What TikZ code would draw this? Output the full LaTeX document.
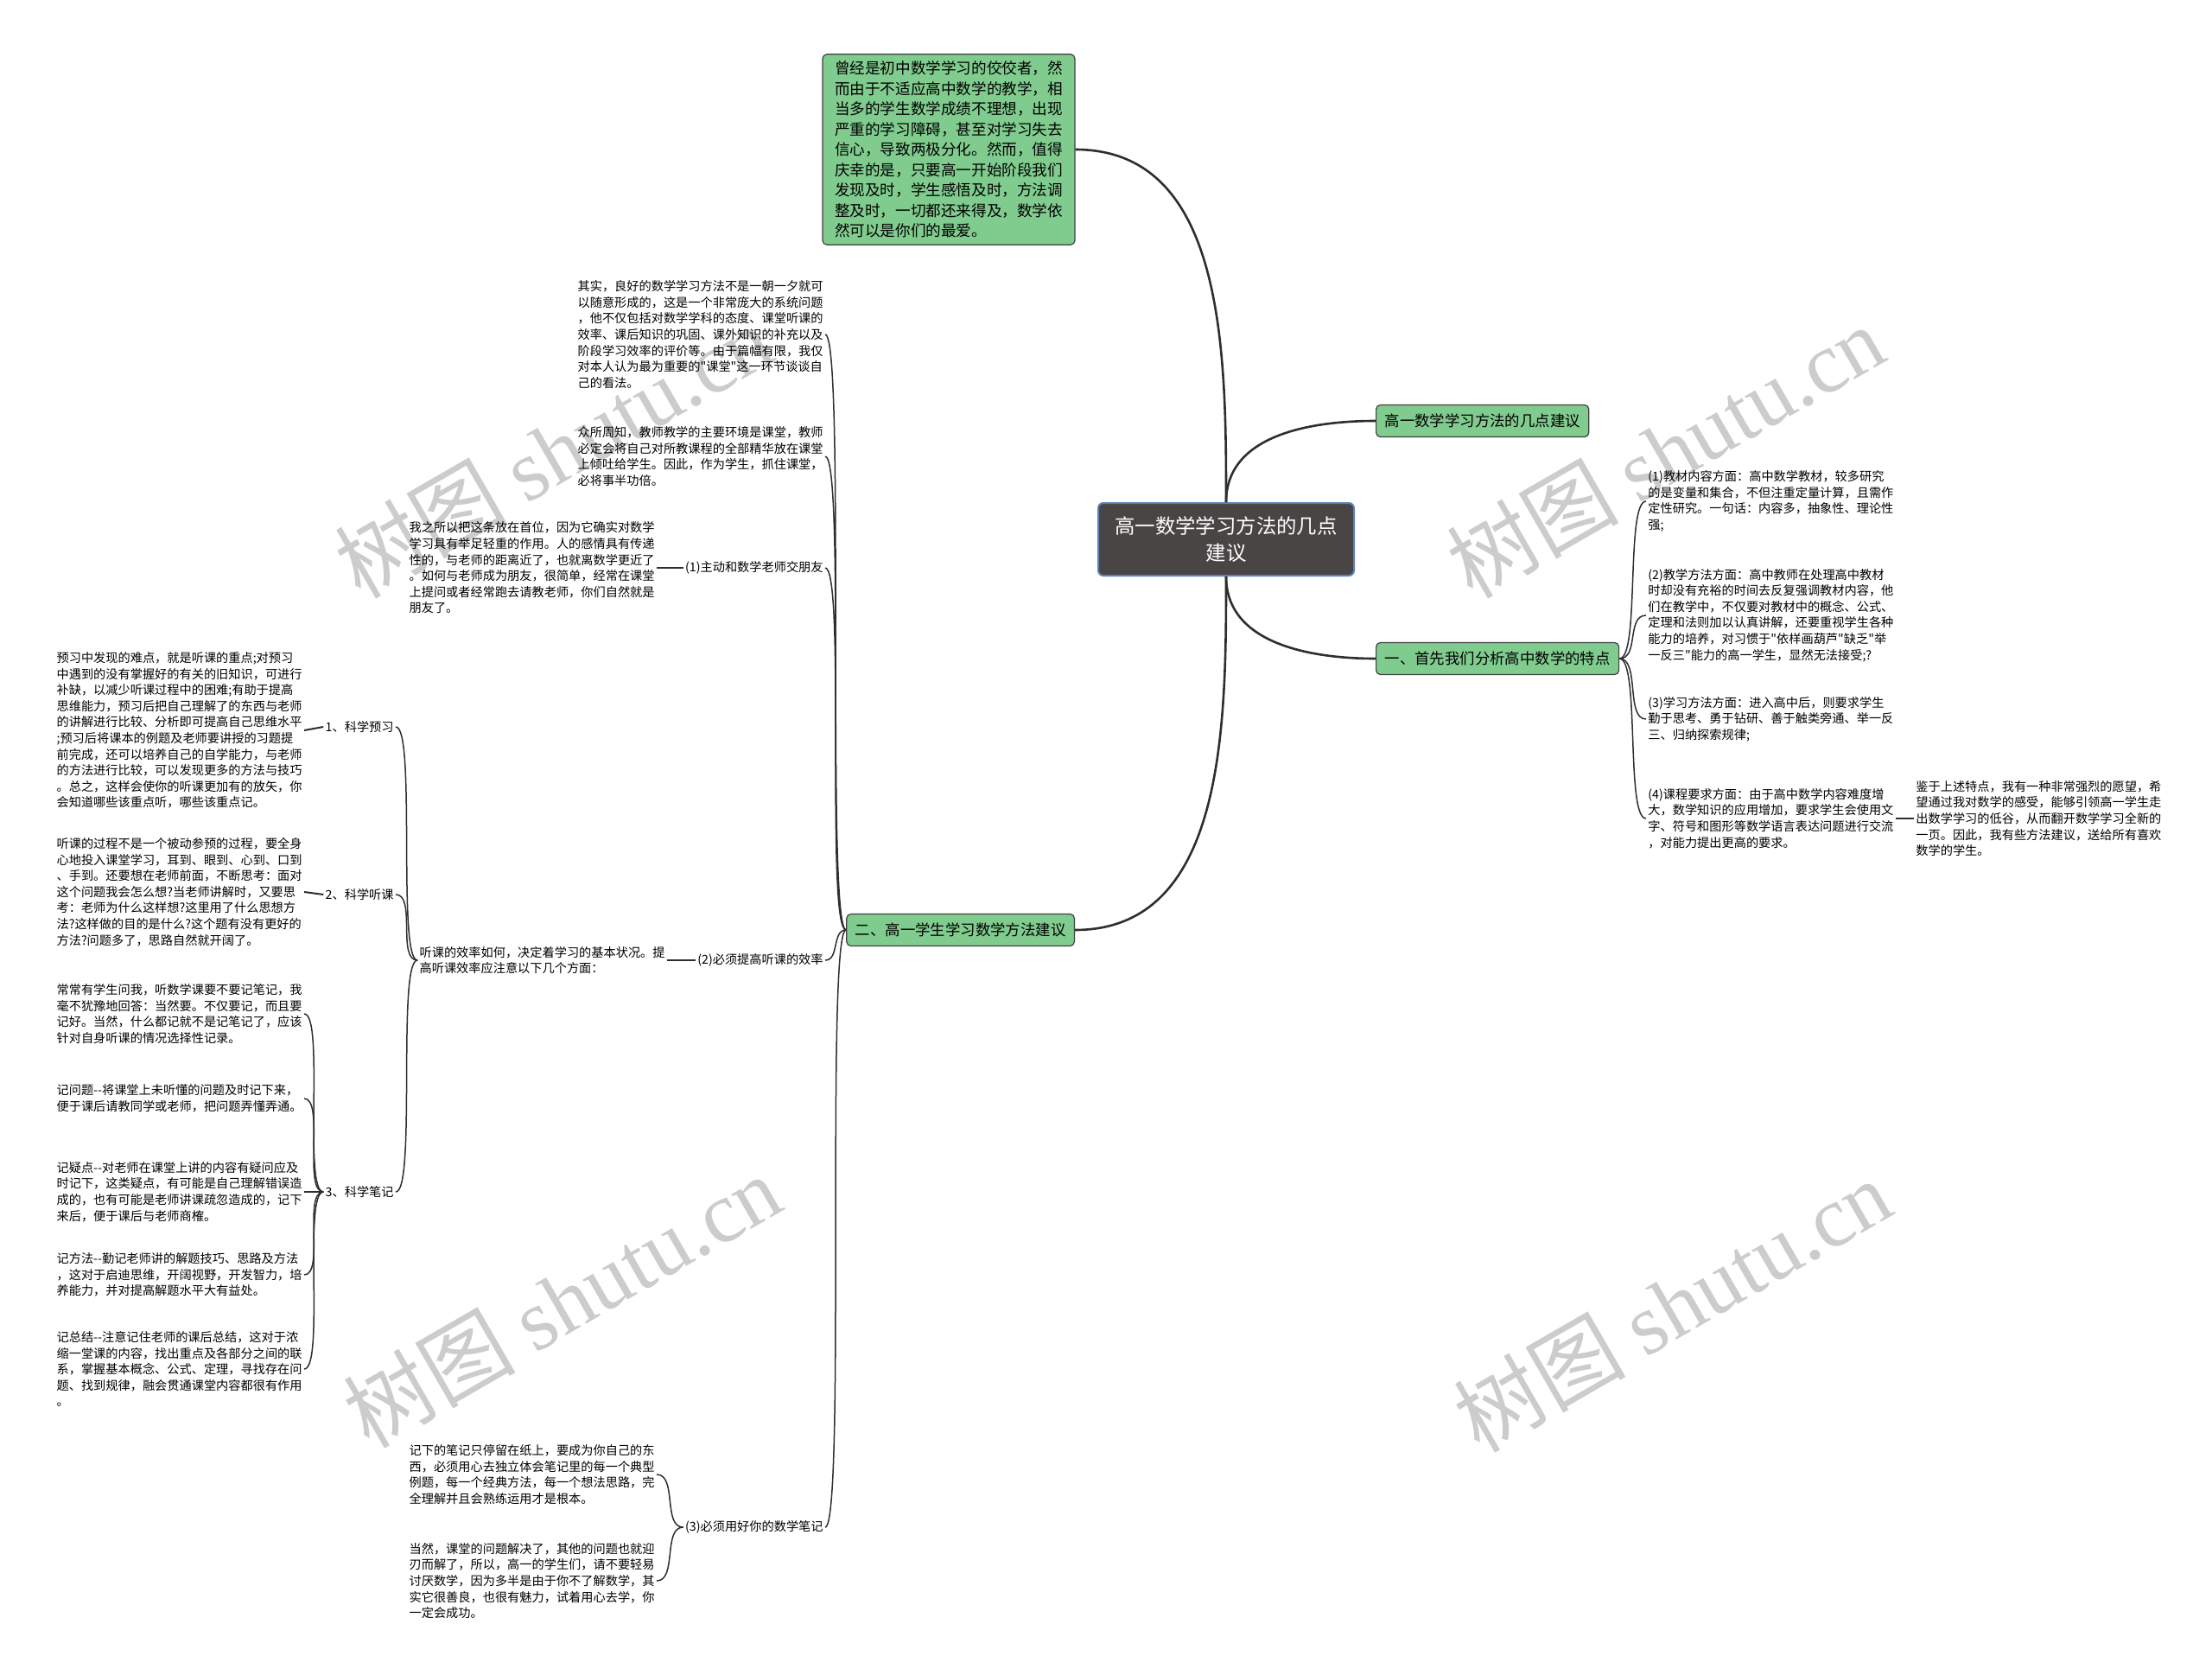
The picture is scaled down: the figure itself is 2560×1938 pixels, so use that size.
\documentclass[tikz,border=0pt]{standalone}
\usepackage{fontspec}
\setmainfont{Noto Sans CJK SC}[Ligatures=TeXOff]
\newfontfamily\wmlatin{Liberation Serif}
\definecolor{topicgreen}{HTML}{80CB8E}
\definecolor{rootgray}{HTML}{4A4545}
\definecolor{rootblue}{HTML}{5B82B5}
\definecolor{linegray}{HTML}{2E2E2E}

\begin{document}
\begin{tikzpicture}[
    x=0.5pt, y=-0.5pt,
    root/.style={rectangle, rounded corners=3pt, draw=rootblue, fill=rootgray, text=white, line width=1pt, minimum width=148pt, minimum height=42pt, align=center, font=\fontsize{11.7}{15.5}\selectfont},
    topic/.style={rectangle, rounded corners=2.5pt, draw=black!75, fill=topicgreen, line width=0.6pt, inner xsep=5pt, minimum height=18.5pt, font=\fontsize{8.7}{11}\selectfont},
    intro/.style={topic, align=left, inner xsep=7pt, inner ysep=4pt, font=\fontsize{8.8}{11.75}\selectfont},
    note/.style={align=left, inner sep=1pt, font=\fontsize{7.1}{9.3}\selectfont},
    wmark/.style={text=black!20, rotate=30, font=\fontsize{50}{52}\selectfont},
    trunk/.style={draw=linegray, line width=1.3pt},
    twig/.style={draw=linegray, line width=0.75pt, max distance=12pt}
]
    \useasboundingbox (0,0) rectangle (2560,1938);

    \node[wmark] (wm1) at (640,522) {树图 {\wmlatin shutu.cn}};
    \node[wmark] (wm2) at (1927,522) {树图 {\wmlatin shutu.cn}};
    \node[wmark] (wm3) at (650,1505) {树图 {\wmlatin shutu.cn}};
    \node[wmark] (wm4) at (1935,1510) {树图 {\wmlatin shutu.cn}};

    \node[root] (root) at (1419,624) {高一数学学习方法的几点\\建议};
    \node[intro] (intro) at (1098,173) {曾经是初中数学学习的佼佼者，然\\而由于不适应高中数学的教学，相\\当多的学生数学成绩不理想，出现\\严重的学习障碍，甚至对学习失去\\信心，导致两极分化。然而，值得\\庆幸的是，只要高一开始阶段我们\\发现及时，学生感悟及时，方法调\\整及时，一切都还来得及，数学依\\然可以是你们的最爱。};
    \node[topic, anchor=west] (advice) at (1592,487) {高一数学学习方法的几点建议};
    \node[topic, anchor=west] (traits) at (1592,762) {一、首先我们分析高中数学的特点};
    \node[topic, anchor=east] (methods) at (1244,1076) {二、高一学生学习数学方法建议};

    \draw[trunk] (root.north) to[out=90, in=0] (intro.east);
    \draw[trunk] (root.north) to[out=90, in=180] (advice.west);
    \draw[trunk] (root.south) to[out=-90, in=180] (traits.west);
    \draw[trunk] (root.south) to[out=-90, in=0] (methods.east);

    \node[note, anchor=west] (tr1) at (1905,580) {(1)教材内容方面：高中数学教材，较多研究\\的是变量和集合，不但注重定量计算，且需作\\定性研究。一句话：内容多，抽象性、理论性\\强;};
    \node[note, anchor=west] (tr2) at (1905,712) {(2)教学方法方面：高中教师在处理高中教材\\时却没有充裕的时间去反复强调教材内容，他\\们在教学中，不仅要对教材中的概念、公式、\\定理和法则加以认真讲解，还要重视学生各种\\能力的培养，对习惯于"依样画葫芦"缺乏"举\\一反三"能力的高一学生，显然无法接受;?};
    \node[note, anchor=west] (tr3) at (1905,832) {(3)学习方法方面：进入高中后，则要求学生\\勤于思考、勇于钻研、善于触类旁通、举一反\\三、归纳探索规律;};
    \node[note, anchor=west] (tr4) at (1905,947) {(4)课程要求方面：由于高中数学内容难度增\\大，数学知识的应用增加，要求学生会使用文\\字、符号和图形等数学语言表达问题进行交流\\，对能力提出更高的要求。};
    \node[note, anchor=west] (wish) at (2215,947) {鉴于上述特点，我有一种非常强烈的愿望，希\\望通过我对数学的感受，能够引领高一学生走\\出数学学习的低谷，从而翻开数学学习全新的\\一页。因此，我有些方法建议，送给所有喜欢\\数学的学生。};

    \foreach \k in {tr1,tr2,tr3,tr4}
        \draw[twig] (traits.east) to[out=0, in=180] (\k.west);
    \draw[twig, line width=1pt] (tr4.east) -- (wish.west);

    \node[note, anchor=east] (idea) at (955,387) {其实，良好的数学学习方法不是一朝一夕就可\\以随意形成的，这是一个非常庞大的系统问题\\，他不仅包括对数学学科的态度、课堂听课的\\效率、课后知识的巩固、课外知识的补充以及\\阶段学习效率的评价等。由于篇幅有限，我仅\\对本人认为最为重要的"课堂"这一环节谈谈自\\己的看法。};
    \node[note, anchor=east] (class) at (955,528) {众所周知，教师教学的主要环境是课堂，教师\\必定会将自己对所教课程的全部精华放在课堂\\上倾吐给学生。因此，作为学生，抓住课堂，\\必将事半功倍。};
    \node[note, anchor=east] (friend) at (955,657) {(1)主动和数学老师交朋友};
    \node[note, anchor=east] (listen) at (955,1111) {(2)必须提高听课的效率};
    \node[note, anchor=east] (notes) at (955,1767) {(3)必须用好你的数学笔记};

    \foreach \k in {idea,class,friend,listen,notes}
        \draw[twig] (methods.west) to[out=180, in=0] (\k.east);

    \node[note, anchor=east] (friendtxt) at (760,657) {我之所以把这条放在首位，因为它确实对数学\\学习具有举足轻重的作用。人的感情具有传递\\性的，与老师的距离近了，也就离数学更近了\\。如何与老师成为朋友，很简单，经常在课堂\\上提问或者经常跑去请教老师，你们自然就是\\朋友了。};
    \draw[twig, line width=1pt] (friend.west) -- (friendtxt.east);

    \node[note, anchor=east] (listentxt) at (772,1111) {听课的效率如何，决定着学习的基本状况。提\\高听课效率应注意以下几个方面：};
    \draw[twig, line width=1pt] (listen.west) -- (listentxt.east);

    \node[note, anchor=east] (prep) at (458,841) {1、科学预习};
    \node[note, anchor=east] (hear) at (458,1035) {2、科学听课};
    \node[note, anchor=east] (write) at (458,1379) {3、科学笔记};
    \foreach \k in {prep,hear,write}
        \draw[twig] (listentxt.west) to[out=180, in=0] (\k.east);

    \node[note, anchor=east] (preptxt) at (352,845) {预习中发现的难点，就是听课的重点;对预习\\中遇到的没有掌握好的有关的旧知识，可进行\\补缺，以减少听课过程中的困难;有助于提高\\思维能力，预习后把自己理解了的东西与老师\\的讲解进行比较、分析即可提高自己思维水平\\;预习后将课本的例题及老师要讲授的习题提\\前完成，还可以培养自己的自学能力，与老师\\的方法进行比较，可以发现更多的方法与技巧\\。总之，这样会使你的听课更加有的放矢，你\\会知道哪些该重点听，哪些该重点记。};
    \draw[twig, line width=1pt] (prep.west) -- (preptxt.east);

    \node[note, anchor=east] (heartxt) at (352,1032) {听课的过程不是一个被动参预的过程，要全身\\心地投入课堂学习，耳到、眼到、心到、口到\\、手到。还要想在老师前面，不断思考：面对\\这个问题我会怎么想?当老师讲解时，又要思\\考：老师为什么这样想?这里用了什么思想方\\法?这样做的目的是什么?这个题有没有更好的\\方法?问题多了，思路自然就开阔了。};
    \draw[twig, line width=1pt] (hear.west) -- (heartxt.east);

    \node[note, anchor=east] (why) at (352,1173) {常常有学生问我，听数学课要不要记笔记，我\\毫不犹豫地回答：当然要。不仅要记，而且要\\记好。当然，什么都记就不是记笔记了，应该\\针对自身听课的情况选择性记录。};
    \node[note, anchor=east] (question) at (352,1271) {记问题--将课堂上未听懂的问题及时记下来，\\便于课后请教同学或老师，把问题弄懂弄通。};
    \node[note, anchor=east] (doubt) at (352,1379) {记疑点--对老师在课堂上讲的内容有疑问应及\\时记下，这类疑点，有可能是自己理解错误造\\成的，也有可能是老师讲课疏忽造成的，记下\\来后，便于课后与老师商榷。};
    \node[note, anchor=east] (skill) at (352,1475) {记方法--勤记老师讲的解题技巧、思路及方法\\，这对于启迪思维，开阔视野，开发智力，培\\养能力，并对提高解题水平大有益处。};
    \node[note, anchor=east] (summary) at (352,1584) {记总结--注意记住老师的课后总结，这对于浓\\缩一堂课的内容，找出重点及各部分之间的联\\系，掌握基本概念、公式、定理，寻找存在问\\题、找到规律，融会贯通课堂内容都很有作用\\。};
    \foreach \k in {why,question,doubt,skill,summary}
        \draw[twig] (write.west) to[out=180, in=0] (\k.east);

    \node[note, anchor=east] (keep) at (760,1706) {记下的笔记只停留在纸上，要成为你自己的东\\西，必须用心去独立体会笔记里的每一个典型\\例题，每一个经典方法，每一个想法思路，完\\全理解并且会熟练运用才是根本。};
    \node[note, anchor=east] (success) at (760,1829) {当然，课堂的问题解决了，其他的问题也就迎\\刃而解了，所以，高一的学生们，请不要轻易\\讨厌数学，因为多半是由于你不了解数学，其\\实它很善良，也很有魅力，试着用心去学，你\\一定会成功。};
    \foreach \k in {keep,success}
        \draw[twig] (notes.west) to[out=180, in=0] (\k.east);
\end{tikzpicture}
\end{document}
